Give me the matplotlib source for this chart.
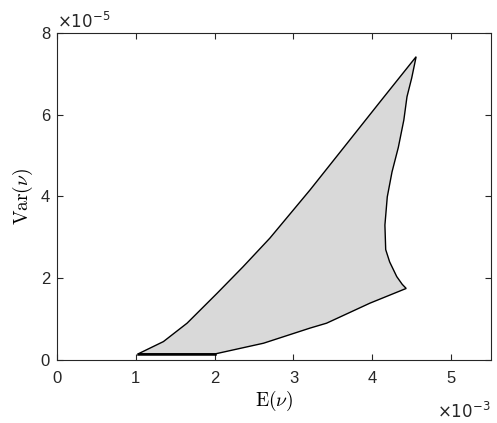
import numpy as np
import matplotlib
matplotlib.use('Agg')
import matplotlib.pyplot as plt
from matplotlib.ticker import FuncFormatter

plt.rcParams['font.family'] = ['Liberation Sans', 'DejaVu Sans']
plt.rcParams['mathtext.fontset'] = 'cm'

# boundary of the feasible region
# x in units of 1e-3, y in units of 1e-5
upper_x = [1.03, 1.35, 1.65, 2.03, 2.36, 2.70, 3.21, 3.68, 4.10, 4.556]
upper_y = [0.15, 0.45, 0.90, 1.63, 2.28, 2.98, 4.16, 5.30, 6.32, 7.42]
right_x = [4.50, 4.44, 4.40, 4.33, 4.25, 4.19, 4.16, 4.17, 4.22, 4.31, 4.38, 4.43]
right_y = [6.90, 6.44, 5.87, 5.20, 4.60, 3.99, 3.30, 2.70, 2.40, 2.04, 1.85, 1.75]
lower_x = [3.97, 3.42, 3.21, 2.62, 2.01, 1.03]
lower_y = [1.39, 0.90, 0.78, 0.41, 0.15, 0.15]

E = np.array(upper_x + right_x + lower_x) * 1e-3
V = np.array(upper_y + right_y + lower_y) * 1e-5

fig = plt.figure(figsize=(4.97, 4.23), dpi=100)
ax = fig.add_axes([0.1147, 0.149, 0.8723, 0.773])

ax.fill(E, V, facecolor='#d9d9d9', edgecolor='black', linewidth=1.0)
# the flat bottom edge looks heavier in the original
ax.plot(E[-2:], V[-2:], color='black', linewidth=1.8)

ax.set_xlim(0, 5.5e-3)
ax.set_ylim(0, 8e-5)
ax.set_xticks(np.arange(0, 6) * 1e-3)
ax.set_yticks(np.arange(0, 9, 2) * 1e-5)
ax.xaxis.set_major_formatter(FuncFormatter(lambda v, p: f'{v / 1e-3:.0f}'))
ax.yaxis.set_major_formatter(FuncFormatter(lambda v, p: f'{v / 1e-5:.0f}'))

for s in ax.spines.values():
    s.set_color('#262626')
    s.set_linewidth(0.8)
ax.tick_params(direction='in', top=True, right=True, length=4, width=0.8,
               color='#262626', labelsize=12, labelcolor='#262626')
ax.tick_params(axis='x', pad=8)
ax.tick_params(axis='y', pad=5)

ax.set_xlabel(r'$\mathrm{E}(\nu)$', fontsize=14, labelpad=2)
ax.set_ylabel(r'$\mathrm{Var}(\nu)$', fontsize=14, labelpad=4)

ax.text(0.0, 1.005, r'$\times 10^{-5}$', transform=ax.transAxes, fontsize=12,
        ha='left', va='bottom', color='#262626', math_fontfamily='dejavusans')
ax.text(1.0, -0.125, r'$\times 10^{-3}$', transform=ax.transAxes, fontsize=12,
        ha='right', va='top', color='#262626', math_fontfamily='dejavusans')

fig.savefig('out.png', dpi=100)
